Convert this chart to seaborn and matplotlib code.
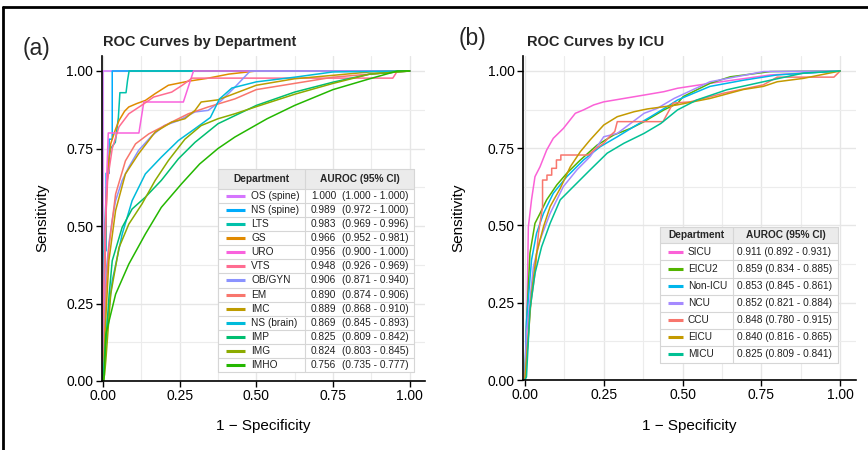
import matplotlib
matplotlib.use('Agg')
import matplotlib.pyplot as plt
import seaborn as sns
import pandas as pd
from matplotlib.lines import Line2D
from matplotlib.patches import Rectangle
from matplotlib.ticker import MultipleLocator, FormatStrFormatter

sns.set_theme(style='white')
plt.rcParams['font.family'] = ['Liberation Sans', 'DejaVu Sans']

# ---- (a) ROC by department: points are (1 - specificity, sensitivity)
os_spine = [(0, 0), (0, 1), (1, 1)]
ns_spine = [(0, 0), (0.004, 0.42), (0.01, 0.42), (0.01, 0.67), (0.02, 0.67), (0.02, 0.78),
            (0.03, 0.78), (0.03, 1.0), (1, 1)]
lts = [(0, 0), (0.004, 0.45), (0.01, 0.6), (0.02, 0.72), (0.025, 0.75), (0.04, 0.77), (0.05, 0.85),
       (0.055, 0.93), (0.075, 0.93), (0.08, 0.97), (0.085, 1.0), (1, 1)]
gs = [(0, 0), (0.005, 0.3), (0.01, 0.55), (0.015, 0.68), (0.025, 0.765), (0.04, 0.81), (0.052, 0.84),
      (0.07, 0.87), (0.084, 0.884), (0.11, 0.895), (0.138, 0.905), (0.17, 0.927), (0.213, 0.954),
      (0.278, 0.967), (0.338, 0.976), (0.41, 0.99), (0.5, 1.0), (1, 1)]
uro = [(0, 0), (0.005, 0.4), (0.01, 0.6), (0.017, 0.8), (0.117, 0.8), (0.133, 0.9), (0.262, 0.9),
       (0.295, 1.0), (1, 1)]
vts = [(0, 0), (0.003, 0.3), (0.008, 0.5), (0.015, 0.65), (0.03, 0.75), (0.052, 0.82), (0.084, 0.862),
       (0.127, 0.89), (0.165, 0.916), (0.224, 0.932), (0.26, 0.955), (0.29, 0.977), (0.945, 0.977),
       (0.96, 1.0), (1, 1)]
ob_gyn = [(0, 0), (0.005, 0.2), (0.01, 0.35), (0.02, 0.45), (0.03, 0.52), (0.041, 0.582), (0.0625, 0.647),
          (0.084, 0.69), (0.116, 0.744), (0.16, 0.792), (0.2, 0.824), (0.246, 0.84), (0.3, 0.868),
          (0.343, 0.873), (0.386, 0.905), (0.43, 0.948), (0.48, 1.0), (1, 1)]
em = [(0, 0), (0.005, 0.15), (0.01, 0.3), (0.019, 0.43), (0.041, 0.603), (0.073, 0.71), (0.106, 0.765),
      (0.149, 0.797), (0.213, 0.83), (0.278, 0.862), (0.343, 0.884), (0.43, 0.91), (0.5, 0.94),
      (0.625, 0.96), (0.75, 0.98), (0.87, 0.99), (1, 1)]
imc = [(0, 0), (0.005, 0.1), (0.01, 0.22), (0.019, 0.388), (0.041, 0.55), (0.073, 0.668), (0.116, 0.733),
       (0.17, 0.803), (0.224, 0.835), (0.267, 0.846), (0.3, 0.873), (0.32, 0.9), (0.375, 0.907),
       (0.5, 0.954), (0.625, 0.975), (0.75, 0.986), (0.87, 0.997), (1, 1)]
ns_brain = [(0, 0), (0.005, 0.08), (0.015, 0.2), (0.03, 0.323), (0.0625, 0.474), (0.095, 0.582),
            (0.138, 0.668), (0.19, 0.722), (0.246, 0.776), (0.3, 0.814), (0.35, 0.85), (0.38, 0.91),
            (0.42, 0.945), (0.5, 0.965), (0.625, 0.98), (0.75, 0.997), (1, 1)]
imp = [(0, 0), (0.005, 0.05), (0.009, 0.118), (0.02, 0.28), (0.03, 0.388), (0.0625, 0.496), (0.095, 0.555),
       (0.138, 0.593), (0.19, 0.647), (0.246, 0.717), (0.3, 0.77), (0.375, 0.83), (0.5, 0.889),
       (0.625, 0.932), (0.75, 0.964), (0.87, 0.99), (1, 1)]
img = [(0, 0), (0.005, 0.02), (0.009, 0.065), (0.025, 0.28), (0.052, 0.43), (0.084, 0.506), (0.127, 0.571),
       (0.17, 0.647), (0.213, 0.711), (0.267, 0.78), (0.32, 0.824), (0.375, 0.846), (0.43, 0.862),
       (0.5, 0.885), (0.625, 0.925), (0.75, 0.96), (0.87, 0.99), (1, 1)]
imho = [(0, 0), (0.003, 0.0), (0.009, 0.15), (0.041, 0.28), (0.084, 0.377), (0.138, 0.474), (0.19, 0.56),
        (0.256, 0.636), (0.315, 0.7), (0.375, 0.75), (0.43, 0.787), (0.535, 0.846), (0.625, 0.889),
        (0.75, 0.94), (0.87, 0.975), (0.96, 1.0), (1, 1)]

dept_names = ['OS (spine)', 'NS (spine)', 'LTS', 'GS', 'URO', 'VTS', 'OB/GYN', 'EM', 'IMC',
              'NS (brain)', 'IMP', 'IMG', 'IMHO']
dept_curves = [os_spine, ns_spine, lts, gs, uro, vts, ob_gyn, em, imc, ns_brain, imp, img, imho]
dept_auc = [1.000, 0.989, 0.983, 0.966, 0.956, 0.948, 0.906, 0.890, 0.889, 0.869, 0.825, 0.824, 0.756]
dept_lo = [1.000, 0.972, 0.969, 0.952, 0.900, 0.926, 0.871, 0.874, 0.868, 0.845, 0.809, 0.803, 0.735]
dept_hi = [1.000, 1.000, 0.996, 0.981, 1.000, 0.969, 0.940, 0.906, 0.910, 0.893, 0.842, 0.845, 0.777]
dept_colors = ['#D575FE', '#00ACFC', '#00C1AB', '#E18A00', '#F962DD', '#FF6C91', '#8B93FF',
               '#F8766D', '#BE9C00', '#00BBDA', '#00BE70', '#8CAB00', '#24B700']

# ---- (b) ROC by ICU
sicu = [(0, 0), (0.005, 0.119), (0.011, 0.496), (0.021, 0.583), (0.032, 0.658), (0.048, 0.69), (0.069, 0.744),
        (0.09, 0.782), (0.122, 0.814), (0.16, 0.863), (0.186, 0.874), (0.218, 0.89), (0.25, 0.9),
        (0.314, 0.911), (0.378, 0.922), (0.441, 0.933), (0.484, 0.944), (0.587, 0.96), (0.778, 0.987), (1, 1)]
eicu2 = [(0, 0), (0.005, 0.173), (0.016, 0.41), (0.032, 0.507), (0.048, 0.539), (0.069, 0.583),
         (0.101, 0.631), (0.133, 0.669), (0.176, 0.712), (0.229, 0.76), (0.282, 0.793), (0.335, 0.814),
         (0.378, 0.836), (0.441, 0.874), (0.484, 0.895), (0.502, 0.917), (0.587, 0.96), (0.651, 0.981),
         (0.778, 0.998), (1, 1)]
non_icu = [(0, 0), (0.005, 0.19), (0.021, 0.388), (0.037, 0.475), (0.059, 0.539), (0.09, 0.604),
           (0.133, 0.658), (0.186, 0.712), (0.239, 0.755), (0.293, 0.787), (0.346, 0.82), (0.399, 0.852),
           (0.452, 0.885), (0.484, 0.906), (0.587, 0.95), (0.693, 0.97), (0.799, 0.987), (1, 1)]
ncu = [(0, 0), (0.005, 0.151), (0.027, 0.367), (0.048, 0.453), (0.08, 0.539), (0.122, 0.626), (0.165, 0.68),
       (0.207, 0.723), (0.25, 0.787), (0.293, 0.798), (0.335, 0.83), (0.378, 0.863), (0.42, 0.879),
       (0.473, 0.911), (0.587, 0.965), (0.757, 0.998), (1, 1)]
ccu = [(0, 0), (0.005, 0.065), (0.016, 0.227), (0.032, 0.345), (0.043, 0.475), (0.056, 0.56), (0.056, 0.647),
       (0.07, 0.647), (0.07, 0.663), (0.085, 0.663), (0.085, 0.685), (0.1, 0.685), (0.1, 0.712),
       (0.114, 0.712), (0.114, 0.728), (0.202, 0.728), (0.22, 0.745), (0.25, 0.766), (0.27, 0.79),
       (0.285, 0.804), (0.293, 0.836), (0.438, 0.836), (0.47, 0.896), (0.524, 0.9), (0.63, 0.928),
       (0.756, 0.955), (0.8, 0.98), (0.98, 0.98), (1, 1)]
eicu = [(0, 0), (0.011, 0.14), (0.021, 0.28), (0.037, 0.41), (0.059, 0.496), (0.08, 0.561), (0.112, 0.62),
        (0.144, 0.69), (0.176, 0.739), (0.207, 0.777), (0.25, 0.825), (0.293, 0.852), (0.346, 0.868),
        (0.388, 0.877), (0.482, 0.89), (0.587, 0.911), (0.693, 0.94), (0.756, 0.95), (0.8, 0.965),
        (0.883, 0.976), (1, 1)]
micu = [(0, 0), (0.005, 0.01), (0.016, 0.227), (0.032, 0.345), (0.053, 0.431), (0.08, 0.507), (0.112, 0.583),
        (0.154, 0.626), (0.207, 0.68), (0.261, 0.734), (0.314, 0.766), (0.378, 0.798), (0.431, 0.83),
        (0.484, 0.874), (0.545, 0.906), (0.64, 0.939), (0.756, 0.965), (0.883, 0.993), (1, 1)]

icu_names = ['SICU', 'EICU2', 'Non-ICU', 'NCU', 'CCU', 'EICU', 'MICU']
icu_curves = [sicu, eicu2, non_icu, ncu, ccu, eicu, micu]
icu_auc = [0.911, 0.859, 0.853, 0.852, 0.848, 0.840, 0.825]
icu_lo = [0.892, 0.834, 0.845, 0.821, 0.780, 0.816, 0.809]
icu_hi = [0.931, 0.885, 0.861, 0.884, 0.915, 0.865, 0.841]
icu_colors = ['#FB61D7', '#53B400', '#00B6EB', '#A58AFF', '#F8766D', '#C49A00', '#00C094']

W, H = 868, 450


def roc_frame(names, curves):
    rows = []
    for n, c in zip(names, curves):
        for f, t in c:
            rows.append((n, f, t))
    return pd.DataFrame(rows, columns=['group', 'fpr', 'tpr'])


def style_axes(ax, xmin):
    ax.set_xlim(xmin, 1.05)
    ax.set_ylim(0, 1.05)
    for a in (ax.xaxis, ax.yaxis):
        a.set_major_locator(MultipleLocator(0.25))
        a.set_minor_locator(MultipleLocator(0.125))
        a.set_major_formatter(FormatStrFormatter('%.2f'))
    ax.grid(which='major', color='#E6E6E6', lw=1.0)
    ax.grid(which='minor', color='#ECECEC', lw=0.8)
    ax.set_axisbelow(True)
    for s in ['top', 'right']:
        ax.spines[s].set_visible(False)
    for s in ['left', 'bottom']:
        ax.spines[s].set_color('black')
        ax.spines[s].set_linewidth(1.2)
    ax.tick_params(which='major', bottom=True, left=True, direction='out', length=4, width=1,
                   color='black', labelsize=10, labelcolor='black', pad=2)
    ax.tick_params(which='minor', length=0)
    ax.set_xlabel('1 \u2212 Specificity', fontsize=11, color='black')
    ax.set_ylabel('Sensitivity', fontsize=11, color='black')


fig = plt.figure(figsize=(W / 100, H / 100), dpi=100)
ax1 = fig.add_axes([101.5 / W, 1 - 381 / H, 323.5 / W, 325.5 / H])
ax2 = fig.add_axes([523 / W, 1 - 380 / H, 333 / W, 324.5 / H])

sns.lineplot(data=roc_frame(dept_names, dept_curves), x='fpr', y='tpr', hue='group', hue_order=dept_names,
             palette=dept_colors, sort=False, estimator=None, legend=False, lw=1.1, ax=ax1)
sns.lineplot(data=roc_frame(icu_names, icu_curves), x='fpr', y='tpr', hue='group', hue_order=icu_names,
             palette=icu_colors, sort=False, estimator=None, legend=False, lw=1.1, ax=ax2)
style_axes(ax1, -0.005)
style_axes(ax2, -0.006)
ax1.xaxis.set_label_coords(0.5, -45 / 325.5)
ax1.yaxis.set_label_coords(-59.5 / 323.5, 0.5)
ax2.xaxis.set_label_coords(0.5, -46 / 324.5)
ax2.yaxis.set_label_coords(-65 / 333, 0.5)
for ax in (ax1, ax2):
    ax.xaxis.label.set_va('center')
    ax.yaxis.label.set_va('center')

# overlay in pixel coordinates for titles, tables and frame
ov = fig.add_axes([0, 0, 1, 1], zorder=10)
ov.set_xlim(0, W)
ov.set_ylim(H, 0)
ov.axis('off')
ov.patch.set_alpha(0)

ov.text(36, 48, '(a)', fontsize=16.5, ha='center', va='center')
ov.text(472, 38, '(b)', fontsize=16.5, ha='center', va='center')
ov.text(103, 42, 'ROC Curves by Department', fontsize=10.5, fontweight='bold', va='center')
ov.text(527, 42, 'ROC Curves by ICU', fontsize=10.5, fontweight='bold', va='center')

ov.add_line(Line2D([3, W], [7, 7], color='black', lw=2))
ov.add_line(Line2D([3, 3], [7, H], color='black', lw=2))


def draw_table(x0, xdiv, x1, top, head_h, row_h, names, colors, auc, lo, hi, sw, tx, vx, cx):
    n = len(names)
    bottom = top + head_h + n * row_h
    ov.add_patch(Rectangle((x0, top), x1 - x0, bottom - top, facecolor='white', edgecolor='none'))
    ov.add_patch(Rectangle((x0, top), x1 - x0, head_h, facecolor='#EBEBEB', edgecolor='none'))
    grid_c = '#D6D6D6'
    for i in range(n + 1):
        y = top + head_h + i * row_h
        ov.add_line(Line2D([x0, x1], [y, y], color=grid_c, lw=0.8))
    ov.add_line(Line2D([x0, x1], [top, top], color=grid_c, lw=0.8))
    for x in (x0, xdiv, x1):
        ov.add_line(Line2D([x, x], [top, bottom], color=grid_c, lw=0.8))
    fs = 7.3
    ov.text((x0 + xdiv) / 2, top + head_h / 2, 'Department', fontsize=fs, fontweight='bold',
            ha='center', va='center')
    ov.text((xdiv + x1) / 2, top + head_h / 2, 'AUROC (95% CI)', fontsize=fs, fontweight='bold',
            ha='center', va='center')
    for i, name in enumerate(names):
        yc = top + head_h + (i + 0.5) * row_h
        ov.add_line(Line2D([sw[0], sw[1]], [yc, yc], color=colors[i], lw=2.2, solid_capstyle='butt'))
        ov.text(tx, yc, name, fontsize=fs, va='center', color='#222222')
        if cx is None:
            ov.text(vx, yc, f'{auc[i]:.3f} ({lo[i]:.3f} - {hi[i]:.3f})', fontsize=fs, va='center',
                    color='#222222')
        else:
            ov.text(vx, yc, f'{auc[i]:.3f}', fontsize=fs, va='center', color='#222222')
            ov.text(cx, yc, f'({lo[i]:.3f} - {hi[i]:.3f})', fontsize=fs, va='center', color='#222222')


draw_table(218, 305, 414, 169.3, 20, 14.03, dept_names, dept_colors, dept_auc, dept_lo, dept_hi,
           (226, 245), 251, 311, 342)
draw_table(660, 733, 838, 226.7, 16.6, 17.1, icu_names, icu_colors, icu_auc, icu_lo, icu_hi,
           (668, 683), 688, 737, None)

fig.savefig('out.png', dpi=100)
